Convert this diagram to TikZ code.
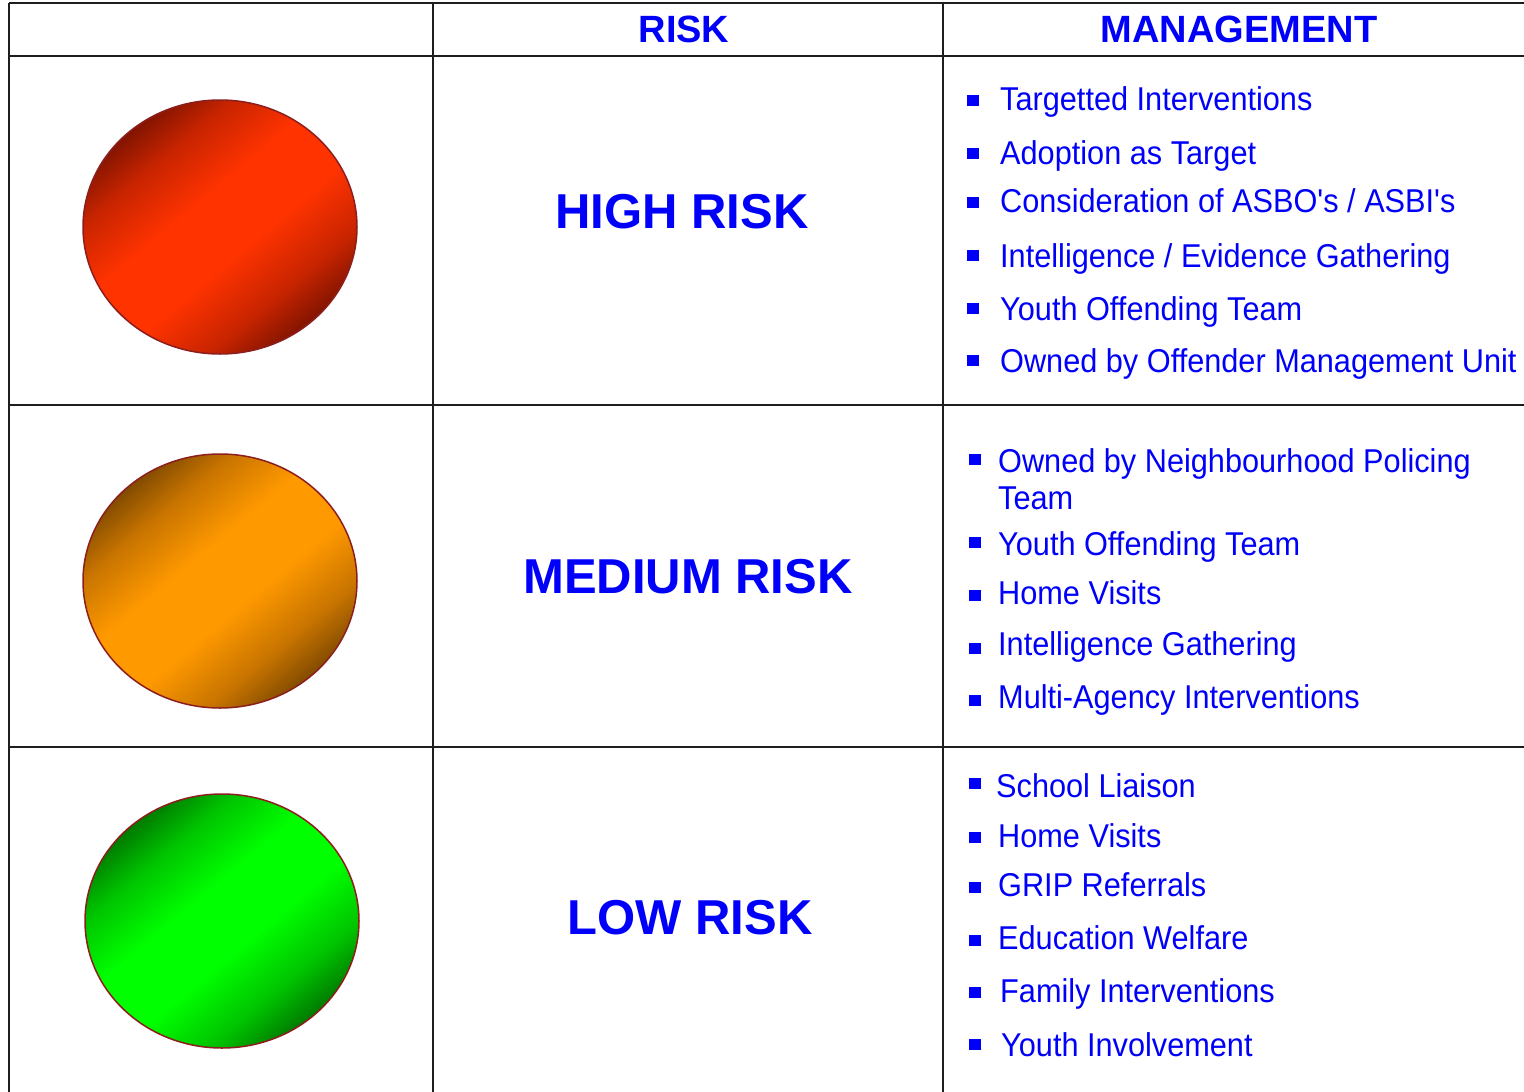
\documentclass[tikz,border=0pt]{standalone}
\usepackage{fontspec}
\setmainfont{Liberation Sans}
\newfontfamily\itemfont[FakeStretch=0.93]{Liberation Sans}
\usetikzlibrary{shapes.geometric}
\definecolor{txtblue}{RGB}{0,0,250}
\definecolor{gridc}{RGB}{30,30,30}
\definecolor{rimc}{RGB}{140,30,30}
\definecolor{redlit}{RGB}{255,51,0}
\definecolor{redmid}{RGB}{200,36,0}
\definecolor{reddark}{RGB}{95,12,0}
\definecolor{orangelit}{RGB}{255,153,0}
\definecolor{orangemid}{RGB}{200,116,0}
\definecolor{orangedark}{RGB}{95,55,0}
\definecolor{greenlit}{RGB}{0,255,0}
\definecolor{greenmid}{RGB}{0,195,0}
\definecolor{greendark}{RGB}{0,85,0}
\pgfdeclarehorizontalshading{redball}{100bp}{color(0bp)=(reddark); color(21bp)=(reddark); color(33bp)=(redmid); color(44bp)=(redlit); color(56bp)=(redlit); color(67bp)=(redmid); color(79bp)=(reddark); color(100bp)=(reddark)}
\pgfdeclarehorizontalshading{orangeball}{100bp}{color(0bp)=(orangedark); color(21bp)=(orangedark); color(33bp)=(orangemid); color(44bp)=(orangelit); color(56bp)=(orangelit); color(67bp)=(orangemid); color(79bp)=(orangedark); color(100bp)=(orangedark)}
\pgfdeclarehorizontalshading{greenball}{100bp}{color(0bp)=(greendark); color(21bp)=(greendark); color(33bp)=(greenmid); color(44bp)=(greenlit); color(56bp)=(greenlit); color(67bp)=(greenmid); color(79bp)=(greendark); color(100bp)=(greendark)}
\tikzset{
  gridline/.style={draw=gridc, line width=2pt},
  ball/.style={ellipse, draw=rimc, line width=1.5pt, inner sep=0pt,
    minimum width=274pt, minimum height=254pt, shading angle=-50},
  hdr/.style={text=txtblue, font=\bfseries\fontsize{38}{44}\selectfont, inner sep=0pt},
  lvl/.style={text=txtblue, font=\bfseries\fontsize{49}{56}\selectfont, inner sep=0pt},
  item/.style={anchor=base west, text=txtblue, font=\itemfont\fontsize{33}{38}\selectfont, inner sep=0pt},
  bul/.style={fill=txtblue, minimum width=12pt, minimum height=11pt, inner sep=0pt}
}
\begin{document}
\begin{tikzpicture}[x=1pt,y=-1pt]
\useasboundingbox (0,0) rectangle (1524,1092);
\fill[white] (0,0) rectangle (1524,1092);
% grid
\draw[gridline] (9,3) -- (1524,3);
\draw[gridline] (9,56) -- (1524,56);
\draw[gridline] (9,405) -- (1524,405);
\draw[gridline] (9,747) -- (1524,747);
\draw[gridline] (9,3) -- (9,1092);
\draw[gridline] (433,3) -- (433,1092);
\draw[gridline] (943,3) -- (943,1092);
% lights
\node[ball, shading=redball] (redlight) at (220,227) {};
\node[ball, shading=orangeball] (orangelight) at (220,581) {};
\node[ball, shading=greenball] (greenlight) at (222,921) {};
% headers
\node[hdr] (hrisk) at (684,29) {RISK};
\node[hdr] (hman) at (1239,29) {MANAGEMENT};
% levels
\node[lvl] (lhigh) at (682,212) {HIGH RISK};
\node[lvl] (lmed) at (688,577) {MEDIUM RISK};
\node[lvl] (llow) at (690,918) {LOW RISK};
% high items
\node[bul] (hb1) at (973,100) {};
\node[bul] (hb2) at (973,153) {};
\node[bul] (hb3) at (973,202) {};
\node[bul] (hb4) at (973,255) {};
\node[bul] (hb5) at (973,308) {};
\node[bul] (hb6) at (973,360) {};
\node[item] (hi1) at (1000,110) {Targetted Interventions};
\node[item] (hi2) at (1000,164) {Adoption as Target};
\node[item] (hi3) at (1000,212) {Consideration of ASBO's / ASBI's};
\node[item] (hi4) at (1000,267) {Intelligence / Evidence Gathering};
\node[item] (hi5) at (1000,320) {Youth Offending Team};
\node[item] (hi6) at (1000,372) {Owned by Offender Management Unit};
% medium items
\node[bul] (mb1) at (975,459) {};
\node[bul] (mb2) at (975,542) {};
\node[bul] (mb3) at (975,595) {};
\node[bul] (mb4) at (975,648) {};
\node[bul] (mb5) at (975,700) {};
\node[item] (mi1) at (998,472) {Owned by Neighbourhood Policing};
\node[item] (mi1b) at (998,509) {Team};
\node[item] (mi2) at (998,555) {Youth Offending Team};
\node[item] (mi3) at (998,604) {Home Visits};
\node[item] (mi4) at (998,655) {Intelligence Gathering};
\node[item] (mi5) at (998,708) {Multi-Agency Interventions};
% low items
\node[bul] (lb1) at (975,783) {};
\node[bul] (lb2) at (975,837) {};
\node[bul] (lb3) at (975,887) {};
\node[bul] (lb4) at (975,940) {};
\node[bul] (lb5) at (975,992) {};
\node[bul] (lb6) at (975,1044) {};
\node[item] (li1) at (996,797) {School Liaison};
\node[item] (li2) at (998,847) {Home Visits};
\node[item] (li3) at (998,896) {GRIP Referrals};
\node[item] (li4) at (998,949) {Education Welfare};
\node[item] (li5) at (1000,1002) {Family Interventions};
\node[item] (li6) at (1001,1056) {Youth Involvement};
\end{tikzpicture}
\end{document}
